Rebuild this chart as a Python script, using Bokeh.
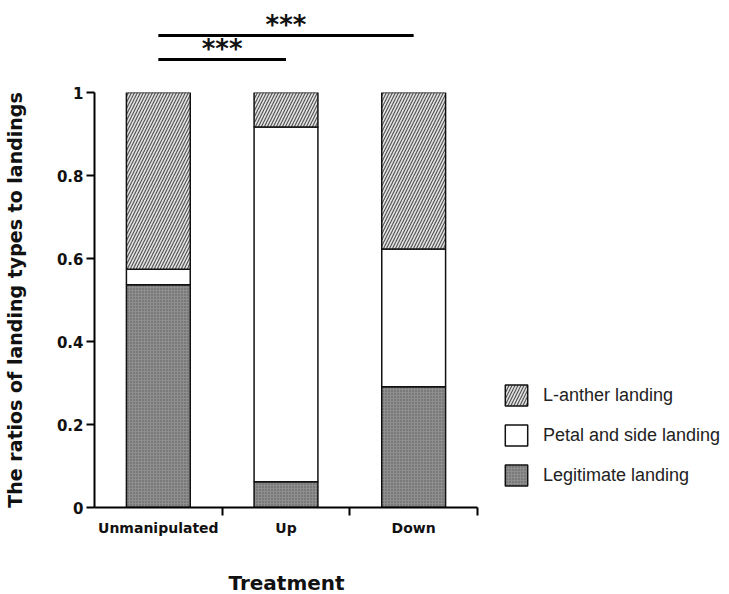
import numpy as np
from bokeh.plotting import figure
from bokeh.models import (Range1d, FixedTicker, NumeralTickFormatter, Legend,
                          LegendItem, Title)
from bokeh.layouts import column
from bokeh.embed import file_html
from bokeh.resources import INLINE
from bokeh.core.properties import value

# ---- data ----
treatments = ["Unmanipulated", "Up", "Down"]
legitimate = [0.537, 0.062, 0.291]
petal_side = [0.037, 0.855, 0.332]
l_anther = [0.426, 0.083, 0.377]
y_ticks = [0, 0.2, 0.4, 0.6, 0.8, 1]
sig_from = [0, 0]          # index of first treatment compared
sig_to = [1, 2]            # index of second treatment compared
sig_level = [1, 2]         # stacking level of bracket
sig_label = ["***", "***"]

FONT_B = "DejaVu Sans"
FONT = "Liberation Sans"
INK = "#111111"

n = len(treatments)
xc = np.arange(n) + 0.5
leg = np.array(legitimate)
pet = np.array(petal_side)
ant = np.array(l_anther)
b1 = leg
b2 = leg + pet
b3 = b2 + ant

W = 727
LEFT = 94
frame_w = W - LEFT
cat_px = 383 / n
xr = Range1d(0, frame_w / cat_px)

# ---- main figure ----
p = figure(width=W, height=514, x_range=xr, y_range=Range1d(0, 1),
           output_backend="svg", toolbar_location=None,
           min_border_left=LEFT, min_border_right=0,
           min_border_top=12, min_border_bottom=86)
p.outline_line_color = None
p.xgrid.visible = False
p.ygrid.visible = False

bw = 0.5
r_leg = p.vbar(x=xc, bottom=0, top=b1, width=bw, fill_color="#8e8e8e",
               hatch_pattern=".", hatch_color="#5a5a5a", hatch_scale=3,
               line_color=INK, line_width=1.5)
r_pet = p.vbar(x=xc, bottom=b1, top=b2, width=bw, fill_color="white",
               line_color=INK, line_width=1.5)
r_ant = p.vbar(x=xc, bottom=b2, top=b3, width=bw, fill_color="#e4e4e4",
               hatch_pattern="/", hatch_color="#555555", hatch_scale=6,
               hatch_weight=1.2, line_color=INK, line_width=1.5)

# x axis
xa = p.xaxis[0]
xa.bounds = (0, n)
xa.ticker = FixedTicker(ticks=list(xc), minor_ticks=[float(i) for i in range(1, n + 1)])
xa.major_label_overrides = {float(x): t for x, t in zip(xc, treatments)}
xa.major_tick_line_color = None
xa.major_tick_out = 0
xa.major_tick_in = 0
xa.minor_tick_line_color = "black"
xa.minor_tick_line_width = 2
xa.minor_tick_out = 8
xa.minor_tick_in = 0
xa.axis_line_width = 2
xa.axis_line_color = "black"
xa.major_label_standoff = 4
xa.major_label_text_font = FONT_B
xa.major_label_text_font_style = "bold"
xa.major_label_text_font_size = "14px"
xa.major_label_text_color = INK
# blank spacer label keeps the title below at the reference height
xa.axis_label = " "
xa.axis_label_standoff = 0
xa.axis_label_text_font_size = "24px"

# x-axis title, centred under the three treatments
xtitle = Title(text="Treatment", align="left", offset=134,
               text_font=FONT_B, text_font_style="bold",
               text_font_size="20px", text_color=INK, standoff=0)
p.add_layout(xtitle, "below")

# y axis
ya = p.yaxis[0]
ya.bounds = (0, 1)
ya.ticker = FixedTicker(ticks=y_ticks, minor_ticks=[])
ya.formatter = NumeralTickFormatter(format="0.[0]")
ya.major_tick_line_color = "black"
ya.major_tick_line_width = 2
ya.major_tick_out = 8
ya.major_tick_in = 0
ya.axis_line_width = 2
ya.axis_line_color = "black"
ya.major_label_standoff = 3
ya.major_label_text_font = FONT_B
ya.major_label_text_font_style = "bold"
ya.major_label_text_font_size = "15px"
ya.major_label_text_color = INK
ya.axis_label = "The ratios of landing types to landings"
ya.axis_label_text_font = FONT_B
ya.axis_label_text_font_style = "bold"
ya.axis_label_text_font_size = "19px"
ya.axis_label_text_color = INK
ya.axis_label_standoff = 28

legend = Legend(items=[
    LegendItem(label="L-anther landing", renderers=[r_ant]),
    LegendItem(label="Petal and side landing", renderers=[r_pet]),
    LegendItem(label="Legitimate landing", renderers=[r_leg]),
], location=(408, 19))
legend.glyph_width = 28
legend.glyph_height = 26
legend.label_height = 26
legend.spacing = 14
legend.label_standoff = 13
legend.padding = 0
legend.margin = 0
legend.border_line_color = None
legend.background_fill_alpha = 0
legend.label_text_font = FONT
legend.label_text_font_size = "18px"
legend.label_text_color = "#222222"
p.add_layout(legend, "center")

# ---- significance brackets figure ----
top = figure(width=W, height=80, x_range=xr, y_range=Range1d(0.125, 3.458),
             output_backend="svg", toolbar_location=None,
             x_axis_type=None, y_axis_type=None,
             min_border_left=LEFT, min_border_right=0,
             min_border_top=0, min_border_bottom=0)
top.outline_line_color = None
top.xgrid.visible = False
top.ygrid.visible = False

sx0 = xc[np.array(sig_from)]
sx1 = xc[np.array(sig_to)]
top.segment(x0=sx0, y0=sig_level, x1=sx1, y1=sig_level,
            line_color="black", line_width=3)
top.text(x=(sx0 + sx1) / 2, y=sig_level, text=sig_label,
         text_align="center", text_baseline="middle", y_offset=-10,
         text_font=value(FONT_B), text_font_style="bold",
         text_font_size="26px", text_color=INK)

layout = column(top, p, spacing=0)

open("out.html", "w").write(file_html(layout, INLINE))
